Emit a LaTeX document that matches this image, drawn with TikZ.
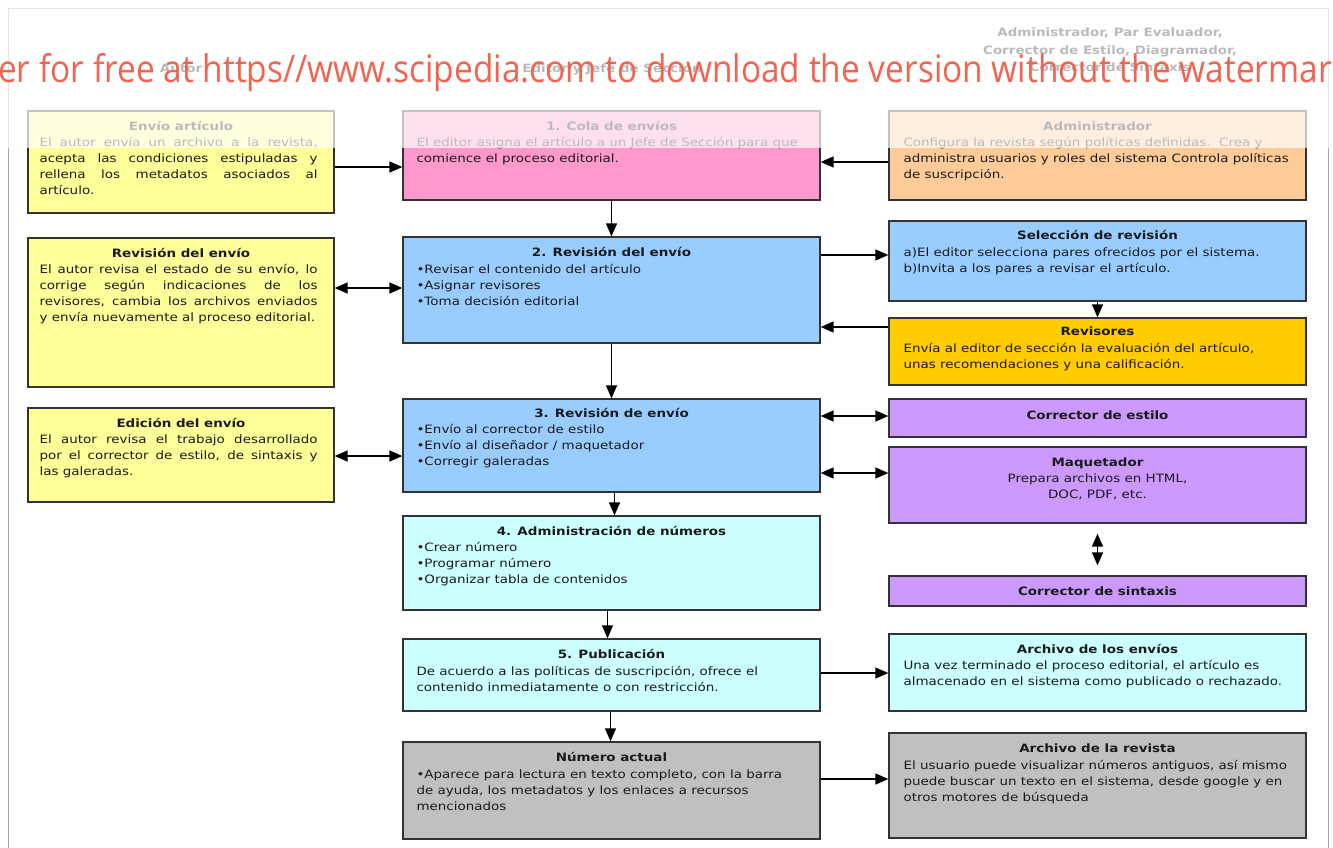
\documentclass[tikz,border=0pt]{standalone}
\usepackage{fontspec}
\setmainfont{DejaVu Sans}[FakeStretch=1.17]
\newfontfamily\wmfont{Open Sans}
\usetikzlibrary{arrows.meta,calc}
\definecolor{ylw}{HTML}{FFFF99}
\definecolor{pnk}{HTML}{FF99CC}
\definecolor{org}{HTML}{FFCC99}
\definecolor{blu}{HTML}{99CCFF}
\definecolor{gld}{HTML}{FFCC00}
\definecolor{pur}{HTML}{CC99FF}
\definecolor{cyn}{HTML}{CCFFFF}
\definecolor{gry}{HTML}{C0C0C0}
\definecolor{ink}{HTML}{1A1A1A}
\definecolor{wmc}{RGB}{240,100,80}
\tikzset{
  box/.style={draw=black!80, line width=1.3pt, rectangle, inner sep=0pt},
  hd/.style={anchor=base, inner sep=0pt, text=ink, font=\fontsize{11.5}{16}\selectfont\bfseries},
  bd/.style={anchor=north west, inner sep=0pt, align=left, text=ink, font=\fontsize{11.5}{16}\selectfont},
  bdc/.style={anchor=north, inner sep=0pt, align=center, text=ink, font=\fontsize{11.5}{16}\selectfont},
  arr/.style={-{Triangle[length=13pt,width=11pt]}, line width=1.4pt},
  dbl/.style={{Triangle[length=13pt,width=11pt]}-{Triangle[length=13pt,width=11pt]}, line width=1.4pt},
}
% name x1 y1 x2 y2 fill
\newcommand\mkbox[6]{\node[box, fill=#6, minimum width={#4-#2}, minimum height={#5-#3}] (#1) at ({(#2+#4)/2},{(#3+#5)/2}) {};}
% name, baseline offset, text
\newcommand\mkhd[3]{\node[hd] (#1-h) at ([yshift={-#2}]#1.north) {#3};}
% name, xpad, first baseline offset, text
\newcommand\mkbd[4]{\node[bd] (#1-b) at ([xshift=#2, yshift={-(#3-11.2)}]#1.north west) {\strut#4};}
\newcommand\jl[1]{\makebox[278pt][s]{#1}}
\begin{document}
\begin{tikzpicture}[x=1pt,y=-1pt]
\useasboundingbox (0,0) rectangle (1333,847);
\fill[white] (0,0) rectangle (1333,847);
\draw[black!35, line width=0.8pt] (8,860) -- (8,8) -- (1328,8) -- (1328,860);

% headers
\node[hd] (hA) at (181,72) {Autor};
\node[hd] (hE) at (612,72) {Editor y Jefe de Sección};
\node[hd, anchor=north, align=center, font=\fontsize{11.5}{17.5}\selectfont\bfseries] (hR) at (1110,28) {Administrador, Par Evaluador,\\Corrector de Estilo, Diagramador,\\Corrector de Sintaxis};

% left column
\mkbox{envio}{28}{111}{334}{213}{ylw}
\mkhd{envio}{20}{Envío artículo}
\mkbd{envio}{12}{36}{\jl{El autor envía un archivo a la revista,}\\\jl{acepta las condiciones estipuladas y}\\\jl{rellena los metadatos asociados al}\\artículo.}

\mkbox{revl}{28}{238}{334}{387}{ylw}
\mkhd{revl}{20}{Revisión del envío}
\mkbd{revl}{12}{36}{\jl{El autor revisa el estado de su envío, lo}\\\jl{corrige según indicaciones de los}\\\jl{revisores, cambia los archivos enviados}\\y envía nuevamente al proceso editorial.}

\mkbox{edic}{28}{408}{334}{502}{ylw}
\mkhd{edic}{20}{Edición del envío}
\mkbd{edic}{12}{36}{\jl{El autor revisa el trabajo desarrollado}\\\jl{por el corrector de estilo, de sintaxis y}\\las galeradas.}

% middle column
\mkbox{cola}{403}{111}{820}{200}{pnk}
\mkhd{cola}{20}{1. Cola de envíos}
\mkbd{cola}{14}{36}{El editor asigna el artículo a un Jefe de Sección para que\\comience el proceso editorial.}

\mkbox{rev2}{403}{237}{820}{343}{blu}
\mkhd{rev2}{20}{2. Revisión del envío}
\mkbd{rev2}{14}{37}{•Revisar el contenido del artículo\\•Asignar revisores\\•Toma decisión editorial}

\mkbox{rev3}{403}{399}{820}{492}{blu}
\mkhd{rev3}{19}{3. Revisión de envío}
\mkbd{rev3}{14}{35}{•Envío al corrector de estilo\\•Envío al diseñador / maquetador\\•Corregir galeradas}

\mkbox{adm4}{403}{516}{820}{610}{cyn}
\mkhd{adm4}{20}{4. Administración de números}
\mkbd{adm4}{14}{36}{•Crear número\\•Programar número\\•Organizar tabla de contenidos}

\mkbox{pub}{403}{639}{820}{711}{cyn}
\mkhd{pub}{20}{5. Publicación}
\mkbd{pub}{14}{37}{De acuerdo a las políticas de suscripción, ofrece el\\contenido inmediatamente o con restricción.}

\mkbox{num}{403}{742}{820}{839}{gry}
\mkhd{num}{20}{Número actual}
\mkbd{num}{14}{37}{•Aparece para lectura en texto completo, con la barra\\de ayuda, los metadatos y los enlaces a recursos\\mencionados}

% right column
\mkbox{admin}{889}{111}{1306}{200}{org}
\mkhd{admin}{20}{Administrador}
\mkbd{admin}{15}{36}{Configura la revista según políticas definidas.\ \ Crea y\\administra usuarios y roles del sistema Controla políticas\\de suscripción.}

\mkbox{sel}{889}{221}{1306}{301}{blu}
\mkhd{sel}{19}{Selección de revisión}
\mkbd{sel}{15}{36}{a)El editor selecciona pares ofrecidos por el sistema.\\b)Invita a los pares a revisar el artículo.}

\mkbox{revs}{889}{318}{1306}{385}{gld}
\mkhd{revs}{18}{Revisores}
\mkbd{revs}{15}{35}{Envía al editor de sección la evaluación del artículo,\\unas recomendaciones y una calificación.}

\mkbox{corr}{889}{399}{1306}{437}{pur}
\node[hd, anchor=center] (corr-h) at ([yshift=3pt]corr.center) {Corrector de estilo};

\mkbox{maq}{889}{447}{1306}{523}{pur}
\mkhd{maq}{20}{Maquetador}
\node[bdc] (maq-b) at ([yshift={-(36-11.2)}]maq.north) {\strut Prepara archivos en HTML,\\DOC, PDF, etc.};

\mkbox{sint}{889}{576}{1306}{606}{pur}
\node[hd, anchor=center] (sint-h) at (sint.center) {Corrector de sintaxis};

\mkbox{arch}{889}{634}{1306}{711}{cyn}
\mkhd{arch}{20}{Archivo de los envíos}
\mkbd{arch}{15}{36}{Una vez terminado el proceso editorial, el artículo es\\almacenado en el sistema como publicado o rechazado.}

\mkbox{archr}{889}{733}{1306}{838}{gry}
\mkhd{archr}{20}{Archivo de la revista}
\mkbd{archr}{15}{37}{El usuario puede visualizar números antiguos, así mismo\\puede buscar un texto en el sistema, desde google y en\\otros motores de búsqueda}

% connectors
\draw[arr] (envio.east |- 0,167) -- (cola.west |- 0,167);
\draw[arr] (admin.west |- 0,162) -- (cola.east |- 0,162);
\draw[arr] (cola.south) -- (rev2.north);
\draw[dbl] (revl.east |- 0,288) -- (rev2.west |- 0,288);
\draw[arr] (rev2.east |- 0,255) -- (sel.west |- 0,255);
\draw[arr] (sel.south) -- (revs.north);
\draw[arr] (revs.west |- 0,327) -- (rev2.east |- 0,327);
\draw[arr] (rev2.south) -- (rev3.north);
\draw[dbl] (edic.east |- 0,456) -- (rev3.west |- 0,456);
\draw[dbl] (rev3.east |- 0,416) -- (corr.west |- 0,416);
\draw[dbl] (rev3.east |- 0,473) -- (maq.west |- 0,473);
\draw[dbl] ([yshift=-10pt]maq.south) -- ([yshift=10pt]sint.north);
\draw[arr] ([xshift=3pt]rev3.south) -- ([xshift=3pt]adm4.north);
\draw[arr] ([xshift=-4pt]adm4.south) -- ([xshift=-4pt]pub.north);
\draw[arr] ([xshift=-1pt]pub.south) -- ([xshift=-1pt]num.north);
\draw[arr] (pub.east |- 0,673) -- (arch.west |- 0,673);
\draw[arr] (num.east |- 0,779) -- (archr.west |- 0,779);

% faded top band and watermark
\fill[white, opacity=0.7] (0,0) rectangle (1333,148);
\node[anchor=base west, inner sep=0pt, text=wmc, font=\wmfont\fontsize{38}{40}\selectfont] (wm) at (-2,82) {\scalebox{0.88}[1]{er for free at https//www.scipedia.com to download the version without the watermark}};
\end{tikzpicture}
\end{document}
